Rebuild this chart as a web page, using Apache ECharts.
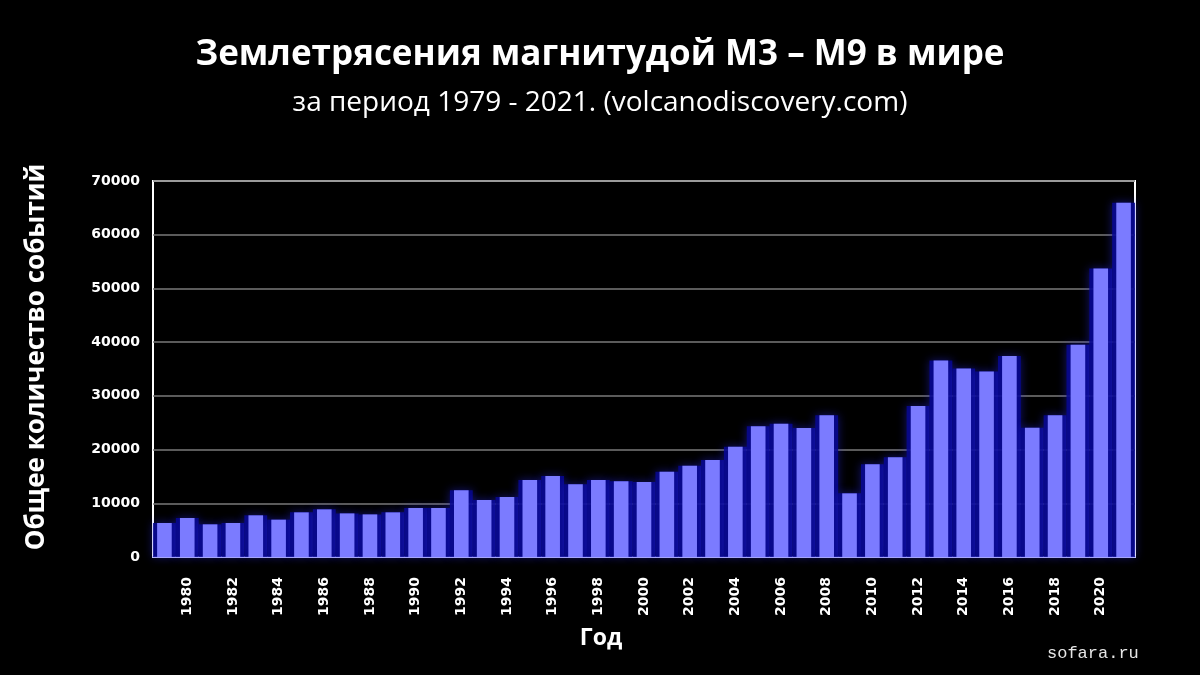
<!DOCTYPE html>
<html>
<head>
<meta charset="utf-8">
<script src="https://cdn.jsdelivr.net/npm/echarts@6/dist/echarts.min.js"></script>
<style>
html,body{margin:0;padding:0;background:#000;}
#chart{width:1200px;height:675px;}
</style>
</head>
<body>
<div id="chart"></div>
<script>
var years = [1979,1980,1981,1982,1983,1984,1985,1986,1987,1988,1989,1990,1991,1992,1993,1994,1995,1996,1997,1998,1999,2000,2001,2002,2003,2004,2005,2006,2007,2008,2009,2010,2011,2012,2013,2014,2015,2016,2017,2018,2019,2020,2021];
var counts = [6330,7260,6080,6330,7760,6950,8310,8870,8120,7930,8310,9120,9120,12410,10610,11170,14330,15080,13530,14330,14080,13960,15890,17000,18060,20540,24320,24820,24020,26370,11850,17250,18550,28110,36590,35100,34540,37420,24070,26370,39530,53720,65960];
var yTicks = [0,10000,20000,30000,40000,50000,60000,70000];

var cats = years.map(String);
var chart = echarts.init(document.getElementById('chart'));
var font = '"Open Sans", "Noto Sans", sans-serif';
var numFont = '"DejaVu Sans", sans-serif';
chart.setOption({
  backgroundColor: '#000000',
  animation: false,
  title: [{
    text: 'Землетрясения магнитудой M3 – M9 в мире',
    left: 'center', top: 33,
    textStyle: {color: '#ffffff', fontSize: 35, fontWeight: 'bold', fontFamily: font}
  }, {
    text: 'за период 1979 - 2021. (volcanodiscovery.com)',
    left: 'center', top: 84,
    textStyle: {color: '#ffffff', fontSize: 28, fontWeight: 'normal', fontFamily: font}
  }],
  grid: {left: 153, right: 65, top: 181, bottom: 118, show: true, borderColor: '#ffffff', borderWidth: 2, backgroundColor: 'transparent', outerBoundsMode: 'none', containLabel: false},
  xAxis: [{
    type: 'category', data: cats,
    axisLine: {show: true, lineStyle: {color: '#c8c8ff', width: 2}},
    axisTick: {show: false},
    axisLabel: {
      color: '#ffffff', fontSize: 14, fontWeight: 'bold', fontFamily: numFont, rotate: 90, margin: 20,
      interval: function (idx, val) { return (+val) % 2 === 0; }
    }
  }, {
    type: 'category', data: cats, show: false
  }],
  yAxis: {
    type: 'value', min: 0, max: 70000, interval: 10000,
    axisLine: {show: false}, axisTick: {show: false},
    axisLabel: {color: '#ffffff', fontSize: 14, fontWeight: 'bold', fontFamily: numFont, margin: 13,
      formatter: function (v) { return yTicks.indexOf(v) >= 0 ? String(v) : ''; }},
    splitLine: {lineStyle: {color: '#7a7a7a', width: 1.5}}
  },
  series: [{
    type: 'bar', xAxisIndex: 1, data: counts, barWidth: '100%', silent: true,
    itemStyle: {color: 'rgba(8,8,145,0.88)', shadowBlur: 10, shadowColor: 'rgba(40,40,230,0.55)'},
    z: 1
  }, {
    type: 'bar', xAxisIndex: 0, data: counts, barWidth: '64%',
    itemStyle: {color: '#7b7bff'},
    z: 3
  }],
  graphic: [{
    type: 'text', x: 37, y: 357, rotation: Math.PI / 2,
    style: {text: 'Общее количество событий', fill: '#ffffff', align: 'center', verticalAlign: 'middle',
      font: 'bold 26px "Open Sans", "Noto Sans", sans-serif'}
  }, {
    type: 'text', x: 601, y: 638,
    style: {text: 'Год', fill: '#ffffff', align: 'center', verticalAlign: 'middle',
      font: 'bold 23px "Open Sans", "Noto Sans", sans-serif'}
  }, {
    type: 'text', left: 1047, top: 645,
    style: {text: 'sofara.ru', fill: '#e6e6e6', font: '17px "Liberation Mono", "DejaVu Sans Mono", monospace'}
  }]
});
</script>
</body>
</html>
